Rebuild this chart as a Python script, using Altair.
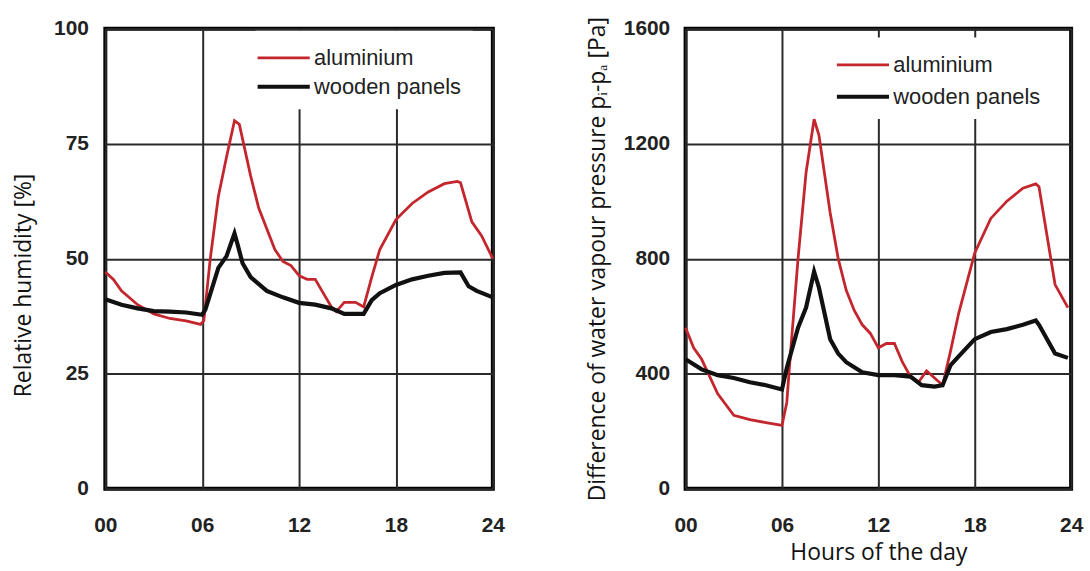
import altair as alt
import pandas as pd

SERIES = ["aluminium", "wooden panels"]
COLORS = ["#c4262d", "#111111"]

# Left panel: relative humidity [%]
rh_al_h = [0, 0.5, 1, 2, 3, 4, 5, 5.9, 6.1, 6.5, 7, 7.5, 8, 8.3, 9, 9.5, 10, 10.5, 11, 11.5, 12, 12.5, 13, 14, 14.3, 14.8, 15.5, 16, 16.5, 17, 18, 19, 20, 21, 21.8, 22, 22.7, 23.3, 24]
rh_al_v = [47.1, 45.5, 43, 40, 38, 37, 36.5, 35.7, 36.5, 50, 63.5, 72, 80, 79.2, 68, 61, 56.5, 52, 49.4, 48.5, 46.3, 45.5, 45.5, 39.5, 38.5, 40.5, 40.5, 39.5, 46, 52, 58.5, 62, 64.5, 66.3, 66.8, 66.5, 58, 55, 50]
rh_wd_h = [0, 1, 2, 3, 4, 5, 6, 6.2, 7, 7.5, 8, 8.2, 8.5, 9, 10, 11, 12, 13, 14, 14.8, 16, 16.5, 17, 18, 19, 20, 21, 22, 22.5, 23, 24]
rh_wd_v = [41.2, 40, 39.2, 38.6, 38.5, 38.3, 37.8, 39, 48, 50.5, 55.5, 53, 49, 46, 43, 41.6, 40.4, 40, 39.2, 38, 38, 41, 42.5, 44.3, 45.5, 46.3, 46.9, 47, 44, 43, 41.6]

# Right panel: difference of water vapour pressure [Pa]
vp_al_h = [0, 0.5, 1, 2, 3, 4, 5, 6, 6.3, 6.5, 7, 7.5, 8, 8.3, 9, 9.5, 10, 10.5, 11, 11.5, 12, 12.5, 13, 13.5, 14, 14.5, 15, 15.5, 16, 16.5, 17, 18, 19, 20, 21, 21.8, 22, 22.5, 23, 23.8]
vp_al_v = [560, 490, 450, 330, 255, 240, 230, 220, 300, 450, 800, 1100, 1285, 1230, 960, 800, 690, 620, 570, 540, 490, 505, 505, 440, 390, 370, 410, 385, 360, 480, 610, 820, 940, 1000, 1045, 1060, 1050, 880, 710, 630]
vp_wd_h = [0, 1, 2, 3, 4, 5, 6, 6.3, 7, 7.5, 8, 8.3, 9, 9.5, 10, 11, 12, 13, 14, 14.7, 15.5, 16, 16.5, 17, 18, 19, 20, 21, 21.8, 22, 23, 23.8]
vp_wd_v = [450, 415, 395, 385, 370, 360, 345, 420, 560, 630, 755, 700, 520, 470, 440, 405, 395, 395, 390, 360, 355, 360, 430, 460, 520, 545, 555, 570, 585, 570, 470, 455]

X_TICKS = [0, 6, 12, 18, 24]
RH_TICKS = [0, 25, 50, 75, 100]
VP_TICKS = [0, 400, 800, 1200, 1600]


def frame(h_al, v_al, h_wd, v_wd):
    a = pd.DataFrame({"hour": h_al, "value": v_al, "series": SERIES[0]})
    b = pd.DataFrame({"hour": h_wd, "value": v_wd, "series": SERIES[1]})
    return pd.concat([a, b], ignore_index=True)


LABEL_FONT = "Liberation Sans"
TITLE_FONT = "Open Sans"


def panel(df, ymax, yticks, ytitle, xtitle, width, height, ylabpad, xlabpad,
          ytitle_y=None, legend_x=153, legend_y=3, ytitlepad=16, row_pad=0):
    yaxis_kw = dict(
        values=yticks, title=ytitle, grid=True, domain=False, ticks=False, format="d",
        labelFont=LABEL_FONT, labelFontWeight="bold", labelFontSize=21, labelColor="#222222",
        labelPadding=ylabpad, titleFont=TITLE_FONT, titleFontWeight="normal",
        titleFontSize=23, titleColor="#111111", titlePadding=ytitlepad,
        gridColor="#2a2a2a", gridWidth=2,
    )
    if ytitle_y is not None:
        yaxis_kw["titleY"] = ytitle_y
    xaxis_kw = dict(
        values=X_TICKS, grid=True, domain=False, ticks=False, labelFlush=False,
        labelFont=LABEL_FONT, labelFontWeight="bold", labelFontSize=21, labelColor="#222222",
        labelPadding=xlabpad, labelExpr="datum.value < 10 ? '0' + datum.value : '' + datum.value",
        titleFont=TITLE_FONT, titleFontWeight="normal", titleFontSize=23, titleColor="#111111",
        titlePadding=6, gridColor="#2a2a2a", gridWidth=2,
    )
    xaxis_kw["title"] = xtitle if xtitle else None
    return alt.Chart(df).mark_line().encode(
        x=alt.X("hour:Q", scale=alt.Scale(domain=[0, 24], nice=False, zero=False),
                axis=alt.Axis(**xaxis_kw)),
        y=alt.Y("value:Q", scale=alt.Scale(domain=[0, ymax], nice=False),
                axis=alt.Axis(**yaxis_kw)),
        color=alt.Color("series:N", scale=alt.Scale(domain=SERIES, range=COLORS),
                        legend=alt.Legend(
                            title=None, orient="none", legendX=legend_x, legendY=legend_y,
                            fillColor="white", padding=11,
                            symbolType="M-1.75,0H1.75", symbolSize=900,
                            symbolStrokeWidth=3.5, symbolFillColor="transparent",
                            labelFont=LABEL_FONT, labelFontSize=22, labelColor="#222222",
                            labelOffset=13, rowPadding=row_pad)),
        strokeWidth=alt.StrokeWidth("series:N", scale=alt.Scale(domain=SERIES, range=[2.8, 4.2]),
                                    legend=None),
    ).properties(width=width, height=height)


left = panel(frame(rh_al_h, rh_al_v, rh_wd_h, rh_wd_v), 100, RH_TICKS,
             "Relative humidity [%]", None, 390, 463, 17, 26, ytitle_y=258,
             legend_x=151, legend_y=2, ytitlepad=18, row_pad=0)
right = panel(frame(vp_al_h, vp_al_v, vp_wd_h, vp_wd_v), 1600, VP_TICKS,
              "Difference of water vapour pressure pᵢ-pₐ [Pa]", "Hours of the day",
              388, 463, 16, 26, legend_x=150, legend_y=9, ytitlepad=14, row_pad=3)

chart = alt.hconcat(left, right, spacing=78).resolve_scale(
    color="independent", strokeWidth="independent"
).resolve_legend(color="independent").configure_view(
    stroke="#000000", strokeWidth=4
).properties(
    background="white", padding={"left": 10, "top": 12, "right": 5, "bottom": 5}
)

chart.save("out.html", embed_options={"renderer": "svg", "actions": False})
